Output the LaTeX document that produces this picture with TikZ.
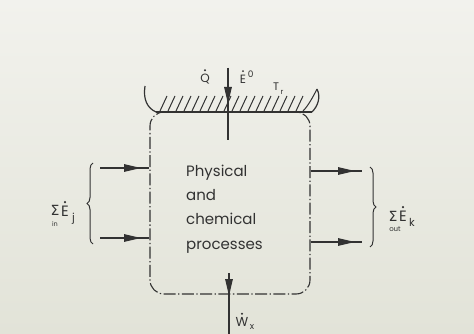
\documentclass[tikz,border=0pt]{standalone}
\usepackage{fontspec}
\setmainfont{Poppins}
\newfontfamily\symfont{DejaVu Sans}
\usetikzlibrary{arrows.meta,decorations.pathreplacing,calc}
\definecolor{papertop}{RGB}{242,242,237}
\definecolor{paperbot}{RGB}{226,227,216}
\definecolor{ink}{RGB}{50,50,50}
\tikzset{
  wallline/.style={ink, line width=1.2pt},
  hatchline/.style={ink, line width=1pt},
  flow/.style={ink, line width=1.3pt},
  flowtip/.style={ink, line width=1.3pt, -{Triangle[length=17pt,width=7.5pt]}},
  sysbox/.style={draw=ink, line width=1.1pt, rounded corners=14pt,
     dash pattern=on 12pt off 2.5pt on 1.3pt off 2.5pt,
     minimum width=160pt, minimum height=182pt, inner sep=0pt},
  bracestyle/.style={ink, line width=1pt, decorate, decoration={brace, amplitude=6pt}},
  lbl/.style={text=ink, inner sep=0pt, font=\fontsize{15}{17}\selectfont},
  toplbl/.style={text=ink, inner sep=0pt, font=\fontsize{12}{14}\selectfont},
  sub/.style={text=ink, inner sep=0pt, font=\fontsize{9}{10}\selectfont},
  tiny/.style={text=ink, inner sep=0pt, font=\fontsize{6.5}{7}\selectfont},
  sigma/.style={text=ink, inner sep=0pt, font=\symfont\fontsize{14}{16}\selectfont},
  dotmark/.style={fill=ink},
}
\begin{document}
\begin{tikzpicture}[x=1pt,y=-1pt]
\shade[top color=papertop, bottom color=paperbot] (0,0) rectangle (474,334);
\useasboundingbox (0,0) rectangle (474,334);

% system boundary
\node[sysbox] (box) at (230,203) {};
\node[text=ink, align=left, anchor=west, inner sep=0pt,
      font=\fontsize{15}{24.4}\selectfont] (txt) at (186,209)
      {Physical\\and\\chemical\\processes};

% wall with hatching
\coordinate (wl) at (156,112);
\coordinate (wr) at (312,112);
\coordinate (cl) at (145,86);
\coordinate (cr) at (317,89);
\draw[wallline] (wl) -- (wr);
\draw[wallline] (wl) .. controls (147,108) and (143,99) .. (cl);
\draw[wallline] (wr) .. controls (318,106) and (321,97) .. (cr);
\draw[hatchline] (cr) .. controls (313,97) and (308,106) .. (303,111);
\foreach \x in {160,168,...,296} \draw[hatchline] (\x,111) -- ++(7,-15);

% heat / energy in at top
\coordinate (qtop) at (228,68);
\coordinate (qtip) at (228,104);
\coordinate (qbot) at (228,140);
\draw[flow] (qtop) -- (qbot);
\draw[flowtip] (qtop) -- (qtip);
\node[toplbl] (qlbl) at (205,79) {Q};
\fill[dotmark] ($(qlbl.north)+(0,-3.5)$) circle (1.1pt);
\node[toplbl] (elbl) at (243,79) {E};
\fill[dotmark] ($(elbl.north)+(0,-3.5)$) circle (1.1pt);
\node[sub, anchor=south west] (esup) at ($(elbl.north east)+(1.5,3)$) {0};
\node[toplbl, font=\fontsize{11}{12}\selectfont] (tlbl) at (276,87) {T};
\node[tiny, font=\fontsize{7.5}{8}\selectfont] (tsub) at (282,92) {r};

% work out at bottom
\coordinate (wtop) at (229,273);
\coordinate (wtip) at (229,296);
\coordinate (wbot) at (229,334);
\draw[flow] (wtop) -- (wbot);
\draw[flowtip] (box.south -| wtop) -- (wtip);
\node[lbl, font=\fontsize{13}{15}\selectfont] (wlbl) at (242,322) {W};
\fill[dotmark] ($(wlbl.north)+(0,-3.5)$) circle (1.1pt);
\node[sub] (wsub) at (252,327) {x};

% inflows
\coordinate (i1s) at (100,168);
\coordinate (i1t) at (141,168);
\coordinate (i2s) at (100,238);
\coordinate (i2t) at (141,238);
\draw[flow] (i1s) -- (box.west |- i1s);
\draw[flowtip] (i1s) -- (i1t);
\draw[flow] (i2s) -- (box.west |- i2s);
\draw[flowtip] (i2s) -- (i2t);
\coordinate (bl1) at (93,244);
\coordinate (bl2) at (93,163);
\draw[bracestyle] (bl1) -- (bl2);
\node[sigma] (insig) at (55,210) {Σ};
\node[lbl] (inE) at (65,211) {E};
\fill[dotmark] ($(inE.north)+(0,-3.5)$) circle (1.2pt);
\node[sub, font=\fontsize{11}{12}\selectfont] (inj) at (73.5,219) {j};
\node[tiny] (insub) at (55,224) {in};

% outflows
\coordinate (o1s) at (310,171);
\coordinate (o1t) at (355,171);
\coordinate (o1e) at (362,171);
\coordinate (o2s) at (310,242);
\coordinate (o2t) at (355,242);
\coordinate (o2e) at (362,242);
\draw[flow] (box.east |- o1s) -- (o1e);
\draw[flowtip] (box.east |- o1s) -- (o1t);
\draw[flow] (box.east |- o2s) -- (o2e);
\draw[flowtip] (box.east |- o2s) -- (o2t);
\coordinate (br1) at (370,167);
\coordinate (br2) at (370,247);
\draw[bracestyle] (br1) -- (br2);
\node[sigma] (outsig) at (393,216) {Σ};
\node[lbl] (outE) at (403,216) {E};
\fill[dotmark] ($(outE.north)+(0,-3.5)$) circle (1.2pt);
\node[sub, font=\fontsize{11}{12}\selectfont] (outk) at (412,222) {k};
\node[tiny, font=\fontsize{7}{8}\selectfont] (outsub) at (395,229) {out};
\end{tikzpicture}
\end{document}
